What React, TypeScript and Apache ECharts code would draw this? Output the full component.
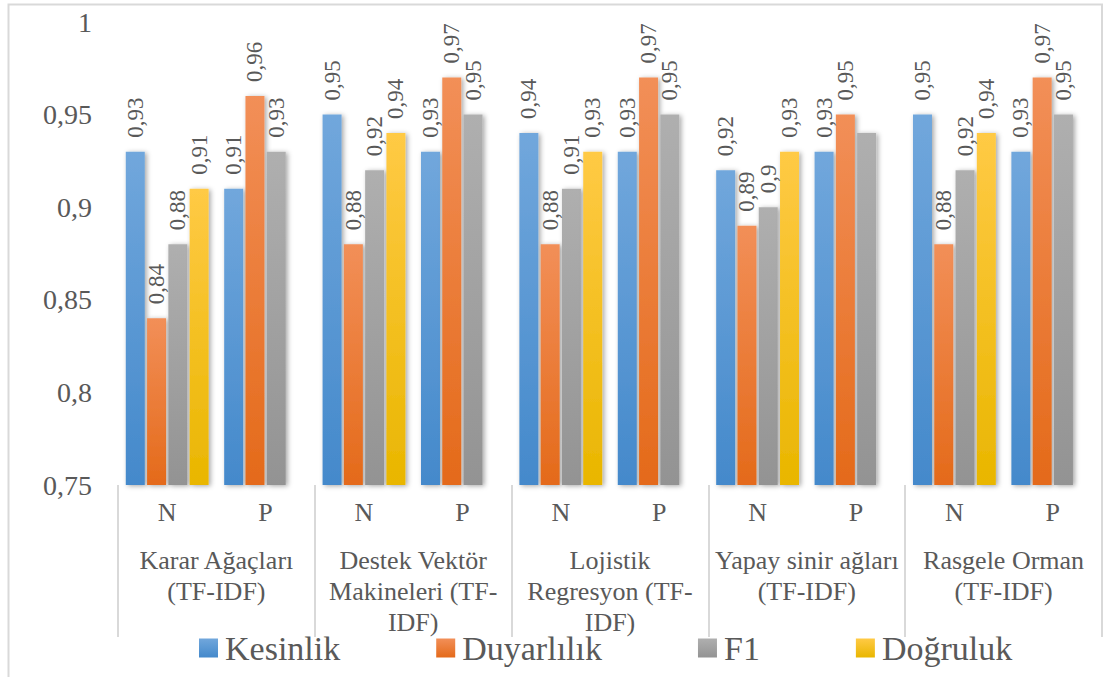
import React, { useEffect, useRef } from "react";
import * as echarts from "echarts";

// Sub-categories (N / P) and the model groups they belong to
const categories = ["N", "P", "N", "P", "N", "P", "N", "P", "N", "P"];
const groups = [
  "Karar Ağaçları\n(TF-IDF)",
  "Destek Vektör\nMakineleri (TF-\nIDF)",
  "Lojistik\nRegresyon (TF-\nIDF)",
  "Yapay sinir ağları\n(TF-IDF)",
  "Rasgele Orman\n(TF-IDF)",
];

const seriesNames = ["Kesinlik", "Duyarlılık", "F1", "Doğruluk"];
const kesinlik = [0.93, 0.91, 0.95, 0.93, 0.94, 0.93, 0.92, 0.93, 0.95, 0.93];
const duyarlilik = [0.84, 0.96, 0.88, 0.97, 0.88, 0.97, 0.89, 0.95, 0.88, 0.97];
const f1 = [0.88, 0.93, 0.92, 0.95, 0.91, 0.95, 0.9, 0.94, 0.92, 0.95];
const dogruluk = [0.91, null, 0.94, null, 0.93, null, 0.93, null, 0.94, null];
// points whose value label is not shown (series index, data index)
const unlabeled: [number, number][] = [[2, 7]];

const yTicks = [0.75, 0.8, 0.85, 0.9, 0.95, 1];

const gradients: [string, string][] = [
  ["#71a7dc", "#4489cb"],
  ["#f28f58", "#e46a1a"],
  ["#afafaf", "#939393"],
  ["#ffca45", "#e9b600"],
];

const FONT = "Liberation Serif";
const TEXT = "#595959";
const LINE = "#d9d9d9";

const fmt = (v: number) => String(parseFloat(v.toFixed(2))).replace(".", ",");

export default function App() {
  const ref = useRef<HTMLDivElement>(null);

  useEffect(() => {
    if (!ref.current) return;
    const chart = echarts.init(ref.current, null, { renderer: "svg" });
    const allData = [kesinlik, duyarlilik, f1, dogruluk];

    const series = allData.map((arr, si) => ({
      name: seriesNames[si],
      type: "bar",
      xAxisIndex: 0,
      yAxisIndex: 0,
      barWidth: 19,
      barGap: "12%",
      barCategoryGap: "16%",
      itemStyle: {
        color: new echarts.graphic.LinearGradient(0, 0, 0, 1, [
          { offset: 0, color: gradients[si][0] },
          { offset: 1, color: gradients[si][1] },
        ]),
        shadowColor: "rgba(0,0,0,0.35)",
        shadowBlur: 5,
        shadowOffsetX: 2,
        shadowOffsetY: 1,
      },
      label: {
        show: true,
        position: "top",
        rotate: 90,
        align: "left",
        verticalAlign: "middle",
        distance: 14,
        fontFamily: FONT,
        fontSize: 23,
        color: TEXT,
        formatter: (p: any) => fmt(p.value),
      },
      data: arr.map((v, di) =>
        unlabeled.some(([s, d]) => s === si && d === di)
          ? { value: v, label: { show: false } }
          : v
      ),
    }));

    chart.setOption({
      animation: false,
      backgroundColor: "#ffffff",
      textStyle: { fontFamily: FONT },
      grid: { left: 118, right: 3, top: 22, bottom: 192, containLabel: false },
      legend: {
        data: seriesNames,
        top: 626,
        left: 194,
        icon: "rect",
        itemWidth: 19,
        itemHeight: 19,
        itemGap: 96,
        selectedMode: false,
        textStyle: { fontFamily: FONT, fontSize: 34, color: TEXT, padding: [0, 0, 0, 2] },
      },
      xAxis: [
        {
          type: "category",
          data: categories,
          position: "bottom",
          offset: 0,
          axisLine: {
            show: true,
            lineStyle: { color: LINE, width: 2, shadowColor: "rgba(0,0,0,0.2)", shadowBlur: 3, shadowOffsetY: 1 },
          },
          axisTick: { show: false },
          axisLabel: { fontFamily: FONT, fontSize: 26, color: TEXT, margin: 14, interval: 0 },
          splitLine: { show: false },
        },
        {
          type: "category",
          data: groups,
          position: "bottom",
          offset: 0,
          axisLine: { show: false },
          axisTick: { show: true, length: 152, lineStyle: { color: LINE, width: 2 } },
          axisLabel: {
            fontFamily: FONT,
            fontSize: 26,
            lineHeight: 31,
            color: TEXT,
            margin: 60,
            interval: 0,
            hideOverlap: false,
          },
          splitLine: { show: false },
        },
      ],
      yAxis: {
        type: "value",
        min: yTicks[0],
        max: yTicks[yTicks.length - 1],
        interval: 0.05,
        axisLine: { show: false },
        axisTick: { show: false },
        splitLine: { show: false },
        axisLabel: {
          fontFamily: FONT,
          fontSize: 28,
          color: TEXT,
          margin: 26,
          formatter: (v: number) => fmt(v),
        },
      },
      graphic: [
        {
          type: "polyline",
          silent: true,
          shape: { points: [[8.5, 700], [8.5, 4.5], [1102, 4.5], [1102, 637]] },
          style: { stroke: LINE, lineWidth: 2, fill: "none" },
        },
      ],
      series,
    });

    return () => chart.dispose();
  }, []);

  return (
    <div
      ref={ref}
      style={{ position: "fixed", left: 0, top: 0, width: 1105, height: 677 }}
    />
  );
}
